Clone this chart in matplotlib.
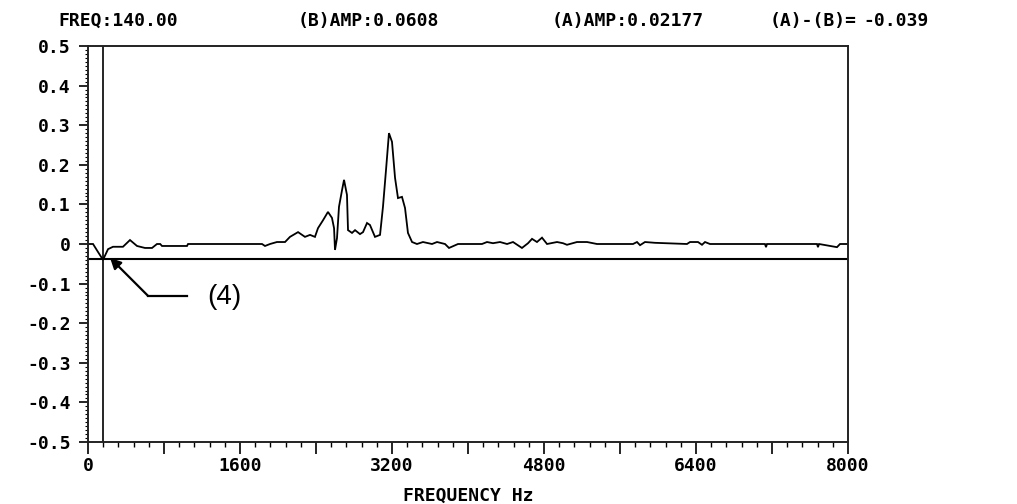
import matplotlib
matplotlib.use("Agg")
import matplotlib.pyplot as plt
from matplotlib.ticker import MultipleLocator

# ---- data ----
freq_hz = [0, 53, 105, 158, 211, 263, 368, 442, 516, 600, 674, 726, 760, 779,
           1042, 1053, 1832, 1863, 1916, 1989, 2074, 2126, 2211, 2284, 2337,
           2389, 2421, 2474, 2526, 2568, 2590, 2600, 2621, 2642, 2674, 2695,
           2726, 2737, 2779, 2811, 2863, 2895, 2937, 2968, 3021, 3074, 3105,
           3137, 3168, 3200, 3232, 3263, 3305, 3337, 3368, 3411, 3463, 3526,
           3621, 3674, 3758, 3800, 3895, 4147, 4200, 4263, 4337, 4411, 4474,
           4568, 4632, 4674, 4726, 4779, 4832, 4937, 5000, 5042, 5147, 5253,
           5358, 5737, 5779, 5811, 5863, 5968, 6305, 6337, 6421, 6463, 6495,
           6547, 7126, 7137, 7147, 7674, 7684, 7695, 7884, 7916, 8000]
amplitude = [0.0, 0.0, -0.02, -0.04, -0.013, -0.007, -0.007, 0.01, -0.005,
             -0.01, -0.01, 0.0, 0.0, -0.005, -0.005, 0.0, 0.0, -0.005, 0.0,
             0.005, 0.005, 0.018, 0.03, 0.018, 0.023, 0.018, 0.04, 0.06, 0.081,
             0.066, 0.04, -0.015, 0.015, 0.094, 0.136, 0.162, 0.124, 0.035,
             0.028, 0.035, 0.025, 0.03, 0.053, 0.048, 0.018, 0.023, 0.094,
             0.187, 0.28, 0.258, 0.167, 0.116, 0.119, 0.091, 0.028, 0.005, 0.0,
             0.005, 0.0, 0.005, 0.0, -0.01, 0.0, 0.0, 0.005, 0.002, 0.005, 0.0,
             0.005, -0.01, 0.002, 0.013, 0.005, 0.016, 0.0, 0.005, 0.002,
             -0.002, 0.005, 0.005, 0.0, 0.0, 0.005, -0.003, 0.005, 0.003, 0.0,
             0.005, 0.005, -0.002, 0.005, 0.0, 0.0, -0.008, 0.0, 0.0, -0.008,
             0.0, -0.008, 0.0, 0.0]

cursor_freq = 155
diff_level = -0.039

x_ticks = [0, 800, 1600, 2400, 3200, 4000, 4800, 5600, 6400, 7200, 8000]
x_tick_labels = ["0", "", "1600", "", "3200", "", "4800", "", "6400", "", "8000"]
y_ticks = [0.5, 0.4, 0.3, 0.2, 0.1, 0.0, -0.1, -0.2, -0.3, -0.4, -0.5]
y_tick_labels = ["0.5", "0.4", "0.3", "0.2", "0.1", "0",
                 "-0.1", "-0.2", "-0.3", "-0.4", "-0.5"]

header_texts = ["FREQ:140.00", "(B)AMP:0.0608", "(A)AMP:0.02177", "(A)-(B)=", "-0.039"]
header_x_px = [58, 298, 552, 770, 863]

annot_label = "(4)"
annot_tip = (232, -0.035)
annot_elbow = (632, -0.131)
annot_end = (1042, -0.131)
annot_text_pos = (1253, -0.134)

# ---- figure ----
W, H = 1017, 504
fig = plt.figure(figsize=(W / 100, H / 100), dpi=100)
ax = fig.add_axes([88 / W, 62 / H, 760 / W, 396 / H])

mono = {"family": "DejaVu Sans Mono", "weight": "bold", "size": 13}

ax.plot(freq_hz, amplitude, color="black", lw=1.3, solid_joinstyle="miter")
ax.axhline(diff_level, color="black", lw=1.5)
ax.axvline(cursor_freq, color="black", lw=1.2)

ax.set_xlim(0, 8000)
ax.set_ylim(-0.5, 0.5)

ax.set_xticks(x_ticks)
ax.set_xticklabels(x_tick_labels, fontdict=mono)
ax.xaxis.set_minor_locator(MultipleLocator(160))
ax.set_yticks(y_ticks)
ax.set_yticklabels(y_tick_labels, fontdict=mono)
ax.yaxis.set_minor_locator(MultipleLocator(0.01))

ax.tick_params(axis="x", which="major", direction="out", length=8.5, width=1.2, pad=2)
ax.tick_params(axis="x", which="minor", direction="out", length=3.6, width=1.0)
ax.tick_params(axis="y", which="major", direction="out", length=6.5, width=1.2, pad=6)
ax.tick_params(axis="y", which="minor", direction="out", length=2.0, width=0.8)

for s in ax.spines.values():
    s.set_linewidth(1.4)
    s.set_color("#222222")

ax.set_xlabel("FREQUENCY Hz", fontdict=mono, labelpad=9)

for t, xp in zip(header_texts, header_x_px):
    fig.text(xp / W, 1 - 21 / H, t, ha="left", va="center", **mono)

# annotation (4)
ax.plot([annot_end[0], annot_elbow[0]], [annot_end[1], annot_elbow[1]],
        color="black", lw=1.6)
ax.annotate("", xy=annot_tip, xytext=annot_elbow,
            arrowprops=dict(arrowstyle="-|>", color="black", lw=1.6,
                            mutation_scale=16, shrinkA=0, shrinkB=0))
ax.text(annot_text_pos[0], annot_text_pos[1], annot_label,
        family=["Liberation Sans", "DejaVu Sans"], fontsize=20,
        ha="left", va="center")

fig.savefig("out.png", dpi=100)
